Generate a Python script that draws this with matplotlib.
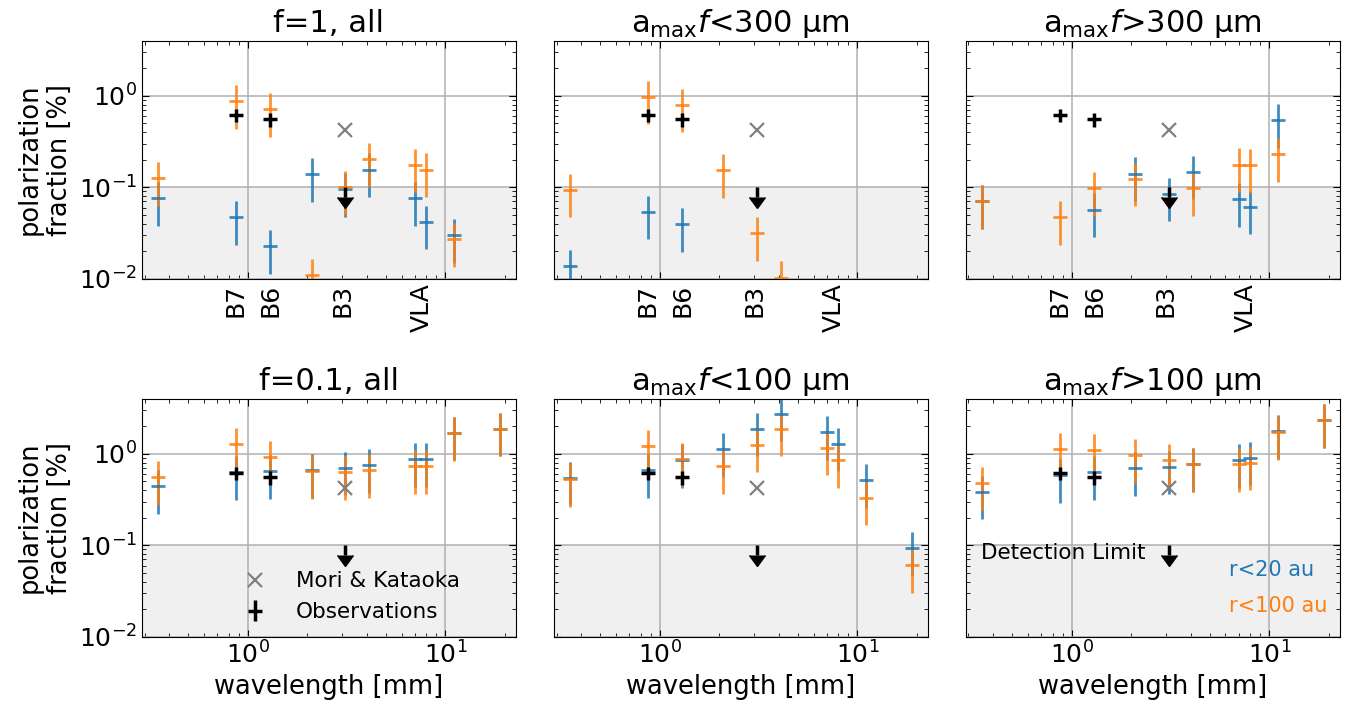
import numpy as np
import matplotlib
matplotlib.use("Agg")
import matplotlib.pyplot as plt
from matplotlib.markers import CARETDOWNBASE

nan = np.nan

# wavelengths of the model points [mm]
wavelengths = [0.35, 0.87, 1.3, 2.1, 3.1, 4.1, 7.0, 8.0, 11.1, 18.9]

# polarization fraction [%] of the models, r<20 au and r<100 au
f1_all_r20 = [0.076, 0.047, 0.0226, 0.138, 0.095, 0.156, 0.076, 0.042, 0.030, nan]
f1_all_r100 = [0.126, 0.875, 0.708, 0.0109, 0.100, 0.203, 0.176, 0.156, 0.027, nan]
lt300_r20 = [0.0139, 0.0537, 0.0394, nan, nan, nan, nan, nan, nan, nan]
lt300_r100 = [0.094, 0.975, 0.797, 0.153, 0.0313, 0.0103, nan, nan, nan, nan]
gt300_r20 = [0.070, nan, 0.057, 0.141, 0.085, 0.148, 0.074, 0.061, 0.542, nan]
gt300_r100 = [0.070, 0.047, 0.0975, 0.124, nan, 0.097, 0.177, 0.174, 0.230, nan]
f01_all_r20 = [0.444, 0.63, 0.647, 0.664, 0.703, 0.746, 0.867, 0.867, 1.69, 1.87]
f01_all_r100 = [0.556, 1.285, 0.927, 0.647, 0.63, 0.664, 0.733, 0.733, 1.67, 1.87]
lt100_r20 = [0.547, 0.664, 0.846, 1.114, 1.875, 2.73, 1.72, 1.285, 0.512, 0.0928]
lt100_r100 = [0.525, 1.21, 0.867, 0.733, 1.26, 1.875, 1.16, 0.853, 0.331, 0.0605]
gt100_r20 = [0.385, 0.585, 0.63, 0.692, 0.721, 0.765, 0.846, 0.904, 1.77, 2.33]
gt100_r100 = [0.483, 1.13, 1.09, 0.959, 0.846, 0.765, 0.765, 0.797, 1.72, 2.33]
rel_err = 0.5

# observations
obs_wl = [0.87, 1.3]
obs_pf = [0.62, 0.55]
obs_err = [0.1, 0.1]
# detection limit (upper limit arrow)
lim_wl = [3.1]
lim_top = [0.1]
lim_bot = [0.078]

# Mori & Kataoka
mk_wl = [3.1]
mk_pf = [0.42]

band_wl = [0.87, 1.3, 3.0, 7.6]
band_names = ["B7", "B6", "B3", "VLA"]

titles = ["f=1, all", r"a$_{\rm max}$$f$<300 μm", r"a$_{\rm max}$$f$>300 μm",
          "f=0.1, all", r"a$_{\rm max}$$f$<100 μm", r"a$_{\rm max}$$f$>100 μm"]
panels = [(f1_all_r20, f1_all_r100), (lt300_r20, lt300_r100), (gt300_r20, gt300_r100),
          (f01_all_r20, f01_all_r100), (lt100_r20, lt100_r100), (gt100_r20, gt100_r100)]

fig, axes = plt.subplots(2, 3, figsize=(13.53, 7.11), dpi=100, sharex=True, sharey=True)
fig.subplots_adjust(left=0.1047, right=0.9904, top=0.9428, bottom=0.1045, wspace=0.1, hspace=0.504)

wl = np.array(wavelengths)
for i, ax in enumerate(axes.flat):
    r20 = np.array(panels[i][0])
    r100 = np.array(panels[i][1])
    ax.axhspan(1e-4, 0.1, color="#f0f0f0", zorder=0, lw=0)
    ax.errorbar(wl, r20, yerr=rel_err * r20, fmt="_", color="tab:blue", alpha=0.85,
                ms=10, mew=2, elinewidth=2, zorder=2)
    ax.errorbar(wl, r100, yerr=rel_err * r100, fmt="_", color="tab:orange", alpha=0.85,
                ms=10, mew=2, elinewidth=2, zorder=2)
    ax.plot(mk_wl, mk_pf, "x", color="gray", ms=10, mew=1.6, zorder=3, label="Mori & Kataoka")
    ax.errorbar(obs_wl, obs_pf, yerr=obs_err, fmt="_", color="k", ms=10, mew=2.5,
                elinewidth=2.5, zorder=4, label="Observations")
    # upper limit
    ax.vlines(lim_wl, lim_bot, lim_top, color="k", lw=2.5, zorder=4)
    ax.plot(lim_wl, lim_bot, ls="none", marker=CARETDOWNBASE, color="k", ms=11, zorder=4)
    ax.set_xscale("log")
    ax.set_yscale("log")
    ax.set_xlim(0.29, 22.8)
    ax.set_ylim(0.01, 4)
    ax.grid(True, which="major", color="#b0b0b0", lw=1.1)
    ax.set_axisbelow(True)
    ax.tick_params(which="both", direction="in", top=True, right=True, labelsize=18)
    ax.tick_params(which="major", length=5)
    ax.tick_params(which="minor", length=3)
    ax.set_title(titles[i], fontsize=22)
    if i >= 3:
        ax.set_xlabel("wavelength [mm]", fontsize=18.5)
    else:
        for bw, bn in zip(band_wl, band_names):
            ax.text(bw, -0.02, bn, rotation=90, ha="center", va="top", fontsize=18,
                    transform=ax.get_xaxis_transform())
    if i % 3 == 0:
        ax.set_ylabel("polarization\nfraction [%]", fontsize=18.5)

axes[1, 0].legend(loc="lower center", bbox_to_anchor=(0.558, -0.02), frameon=False,
                  fontsize=15.5, handlelength=1.2, handletextpad=1.3)
axes[1, 2].text(0.04, 0.35, "Detection Limit", fontsize=15.5, va="center",
                transform=axes[1, 2].transAxes)
axes[1, 2].text(0.704, 0.28, "r<20 au", color="tab:blue", fontsize=15, va="center",
                transform=axes[1, 2].transAxes)
axes[1, 2].text(0.704, 0.13, "r<100 au", color="tab:orange", fontsize=15, va="center",
                transform=axes[1, 2].transAxes)

fig.savefig("out.png", dpi=100)
